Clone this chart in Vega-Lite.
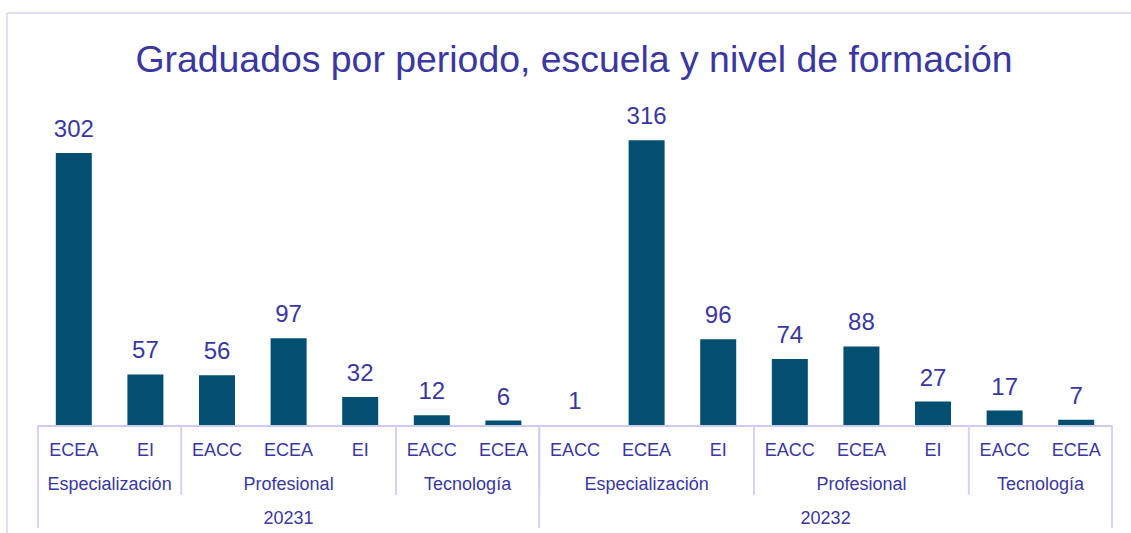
{
  "$schema": "https://vega.github.io/schema/vega-lite/v6.json",
  "autosize": {"type": "none"},
  "width": 1124,
  "height": 520,
  "padding": {"left": 7, "top": 13, "right": 0, "bottom": 0},
  "background": "white",
  "config": {"view": {"stroke": null}, "text": {"font": "Liberation Sans"}},
  "title": {
    "text": "Graduados por periodo, escuela y nivel de formación",
    "anchor": "middle",
    "offset": -97,
    "baseline": "alphabetic",
    "dx": 5,
    "fontSize": 37.4,
    "font": "Liberation Sans",
    "fontWeight": "normal",
    "color": "#3A379F"
  },
  "data": {
    "values": [
      {"periodo": "20231", "nivel": "Especialización", "escuela": "ECEA", "graduados": 302},
      {"periodo": "20231", "nivel": "Especialización", "escuela": "EI", "graduados": 57},
      {"periodo": "20231", "nivel": "Profesional", "escuela": "EACC", "graduados": 56},
      {"periodo": "20231", "nivel": "Profesional", "escuela": "ECEA", "graduados": 97},
      {"periodo": "20231", "nivel": "Profesional", "escuela": "EI", "graduados": 32},
      {"periodo": "20231", "nivel": "Tecnología", "escuela": "EACC", "graduados": 12},
      {"periodo": "20231", "nivel": "Tecnología", "escuela": "ECEA", "graduados": 6},
      {"periodo": "20232", "nivel": "Especialización", "escuela": "EACC", "graduados": 1},
      {"periodo": "20232", "nivel": "Especialización", "escuela": "ECEA", "graduados": 316},
      {"periodo": "20232", "nivel": "Especialización", "escuela": "EI", "graduados": 96},
      {"periodo": "20232", "nivel": "Profesional", "escuela": "EACC", "graduados": 74},
      {"periodo": "20232", "nivel": "Profesional", "escuela": "ECEA", "graduados": 88},
      {"periodo": "20232", "nivel": "Profesional", "escuela": "EI", "graduados": 27},
      {"periodo": "20232", "nivel": "Tecnología", "escuela": "EACC", "graduados": 17},
      {"periodo": "20232", "nivel": "Tecnología", "escuela": "ECEA", "graduados": 7}
    ]
  },
  "transform": [
    {"window": [{"op": "row_number", "as": "orden"}], "groupby": [], "sort": []}
  ],
  "layer": [
    {
      "mark": {"type": "bar", "width": 36, "color": "#034F71"},
      "encoding": {
        "x": {"field": "orden", "type": "quantitative", "scale": {"domain": [0.067, 15.765], "nice": false, "zero": false, "padding": 0}, "axis": null},
        "y": {"field": "graduados", "type": "quantitative", "scale": {"domain": [-118.4, 456.9], "nice": false, "zero": false, "padding": 0}, "axis": null}
      }
    },
    {
      "transform": [{"aggregate": [{"op": "min", "field": "orden", "as": "inicio"}, {"op": "max", "field": "orden", "as": "fin"}], "groupby": []}],
      "layer": [
        {
          "mark": {"type": "rule", "color": "#CFCBEE", "strokeWidth": 2, "xOffset": -35.8, "x2Offset": 35.8},
          "encoding": {
            "x": {"field": "inicio", "type": "quantitative"},
            "x2": {"field": "fin"},
            "y": {"datum": 0, "type": "quantitative"}
          }
        },
        {
          "mark": {"type": "rule", "color": "#D6D2F2", "strokeWidth": 2, "xOffset": 35.8},
          "encoding": {
            "x": {"field": "fin", "type": "quantitative"},
            "y": {"datum": 0, "type": "quantitative"},
            "y2": {"datum": -112.8}
          }
        },
        {
          "mark": {"type": "rule", "color": "#D6D2F2", "strokeWidth": 1.5},
          "encoding": {
            "x": {"datum": 0.067, "type": "quantitative"},
            "x2": {"datum": 15.8},
            "y": {"datum": 456.9, "type": "quantitative"}
          }
        },
        {
          "mark": {"type": "rule", "color": "#D6D2F2", "strokeWidth": 1.5},
          "encoding": {
            "x": {"datum": 0.067, "type": "quantitative"},
            "y": {"datum": -118.4, "type": "quantitative"},
            "y2": {"datum": 456.9}
          }
        }
      ]
    },
    {
      "transform": [{"aggregate": [{"op": "min", "field": "orden", "as": "inicio"}], "groupby": ["periodo", "nivel"]}],
      "mark": {"type": "rule", "color": "#D6D2F2", "strokeWidth": 2, "xOffset": -35.8},
      "encoding": {
        "x": {"field": "inicio", "type": "quantitative"},
        "y": {"datum": 0, "type": "quantitative"},
        "y2": {"datum": -76.3}
      }
    },
    {
      "transform": [{"aggregate": [{"op": "min", "field": "orden", "as": "inicio"}], "groupby": ["periodo"]}],
      "mark": {"type": "rule", "color": "#D6D2F2", "strokeWidth": 2, "xOffset": -35.8},
      "encoding": {
        "x": {"field": "inicio", "type": "quantitative"},
        "y": {"datum": 0, "type": "quantitative"},
        "y2": {"datum": -112.8}
      }
    },
    {
      "mark": {"type": "text", "fontSize": 24, "baseline": "alphabetic", "dy": -16, "color": "#3A379F", "font": "Liberation Sans"},
      "encoding": {
        "x": {"field": "orden", "type": "quantitative"},
        "y": {"field": "graduados", "type": "quantitative"},
        "text": {"field": "graduados", "type": "quantitative"}
      }
    },
    {
      "mark": {"type": "text", "fontSize": 18, "baseline": "alphabetic", "color": "#3A379F", "font": "Liberation Sans"},
      "encoding": {
        "x": {"field": "orden", "type": "quantitative"},
        "y": {"datum": -33.2, "type": "quantitative"},
        "text": {"field": "escuela", "type": "nominal"}
      }
    },
    {
      "transform": [{"aggregate": [{"op": "mean", "field": "orden", "as": "centro"}], "groupby": ["periodo", "nivel"]}],
      "mark": {"type": "text", "fontSize": 18, "baseline": "alphabetic", "color": "#3A379F", "font": "Liberation Sans"},
      "encoding": {
        "x": {"field": "centro", "type": "quantitative"},
        "y": {"datum": -70.8, "type": "quantitative"},
        "text": {"field": "nivel", "type": "nominal"}
      }
    },
    {
      "transform": [{"aggregate": [{"op": "mean", "field": "orden", "as": "centro"}], "groupby": ["periodo"]}],
      "mark": {"type": "text", "fontSize": 18, "baseline": "alphabetic", "color": "#3A379F", "font": "Liberation Sans"},
      "encoding": {
        "x": {"field": "centro", "type": "quantitative"},
        "y": {"datum": -108.4, "type": "quantitative"},
        "text": {"field": "periodo", "type": "nominal"}
      }
    }
  ]
}
